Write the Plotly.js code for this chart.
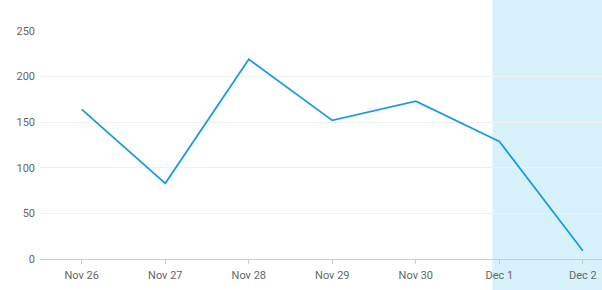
<!DOCTYPE html>
<html><head><meta charset="utf-8">
<script src="https://cdn.plot.ly/plotly-3.0.1.min.js"></script>
<style>html,body{margin:0;padding:0;background:#fff}#chart{width:602px;height:290px}</style>
</head><body><div id="chart"></div>
<script>
const dates = ["2023-11-26","2023-11-27","2023-11-28","2023-11-29","2023-11-30","2023-12-01","2023-12-02"];
const tickLabels = ["Nov 26","Nov 27","Nov 28","Nov 29","Nov 30","Dec 1","Dec 2"];
const values = [164, 83, 219, 152, 173, 129, 9];
const shadeStart = "2023-11-30 22:00";
const shadeEnd = "2023-12-02 06:00";

Plotly.newPlot('chart', [{
  x: dates, y: values, type: 'scatter', mode: 'lines',
  line: {color: '#1a9be0', width: 1.8}, hoverinfo: 'skip'
}], {
  width: 602, height: 290,
  margin: {l: 40, r: 0, t: 31, b: 31},
  paper_bgcolor: '#fff', plot_bgcolor: 'rgba(0,0,0,0)',
  showlegend: false,
  font: {family: 'Roboto, "DejaVu Sans", sans-serif', size: 11, color: '#666'},
  xaxis: {
    type: 'date',
    range: ["2023-11-25 12:00", "2023-12-02 05:30"],
    tickvals: dates, ticktext: tickLabels,
    ticks: 'outside', ticklen: 4, tickcolor: '#ccc',
    showgrid: false, showline: true, linecolor: '#ccc', linewidth: 1,
    zeroline: false, tickfont: {size: 11, color: '#666'},
    ticklabelstandoff: 2
  },
  yaxis: {
    range: [0, 250], tickvals: [0,50,100,150,200,250],
    showgrid: true, gridcolor: '#f0f0f0', zeroline: false,
    showline: false, ticks: '', tickfont: {size: 11, color: '#666'},
    ticklabelstandoff: 4
  },
  shapes: [{
    type: 'rect', xref: 'x', yref: 'paper',
    x0: shadeStart, x1: shadeEnd, y0: -0.2, y1: 1.2,
    fillcolor: '#d7f1fb', line: {width: 0}, layer: 'below'
  }]
}, {displayModeBar: false, staticPlot: true});
</script></body></html>
